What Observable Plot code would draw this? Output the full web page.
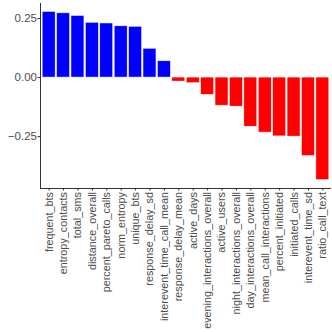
<!DOCTYPE html>
<html><head><meta charset="utf-8">
<script src="https://cdn.jsdelivr.net/npm/d3@7"></script>
<script src="https://cdn.jsdelivr.net/npm/@observablehq/plot@0.6"></script>
<style>body{margin:0;background:#fff;}</style>
</head><body><div id="chart"></div>
<script>
const categories = ["frequent_bts","entropy_contacts","total_sms","distance_overall","percent_pareto_calls","norm_entropy","unique_bts","response_delay_sd","interevent_time_call_mean","response_delay_mean","active_days","evening_interactions_overall","active_users","night_interactions_overall","day_interactions_overall","mean_call_interactions","percent_initiated","initiated_calls","interevent_time_sd","ratio_call_text"];
const values = [0.278,0.272,0.261,0.232,0.229,0.217,0.215,0.122,0.069,-0.017,-0.024,-0.073,-0.119,-0.123,-0.208,-0.233,-0.249,-0.250,-0.332,-0.434];
const yTicks = [-0.25, 0, 0.25];
const data = categories.map((c, i) => ({feature: c, value: values[i]}));
const yMin = -0.4696, yMax = 0.3136;
const chart = Plot.plot({
  width: 332, height: 332,
  marginLeft: 40, marginRight: 1, marginTop: 3, marginBottom: 144,
  style: {fontFamily: "'Liberation Sans', Arial, sans-serif", fontSize: "10.8px", color: "#4d4d4d", background: "white"},
  x: {domain: categories, paddingInner: 0.1, paddingOuter: 0.15, round: false},
  y: {domain: [yMin, yMax]},
  marks: [
    Plot.barY(data, {filter: d => d.value > 0, x: "feature", y: "value", fill: "blue", stroke: "white", strokeWidth: 0.5}),
    Plot.barY(data, {filter: d => d.value <= 0, x: "feature", y: "value", fill: "red", stroke: "white", strokeWidth: 0.5}),
    Plot.axisX({tickRotate: -90, tickSize: 2.5, tickPadding: 1, label: null, stroke: "#333", fill: "#4d4d4d", fontSize: 10.8}),
    Plot.axisY({ticks: yTicks, tickSize: 2.5, tickPadding: 1, label: null, stroke: "#333", fill: "#4d4d4d", fontSize: 11.5,
      tickFormat: d => (d < 0 ? "\u2212" : "") + Math.abs(d).toFixed(2)}),
    Plot.ruleY([yMin], {stroke: "#333", strokeWidth: 1}),
    Plot.frame({anchor: "left", stroke: "#333", strokeWidth: 1})
  ]
});
document.getElementById("chart").appendChild(chart);
</script></body></html>
